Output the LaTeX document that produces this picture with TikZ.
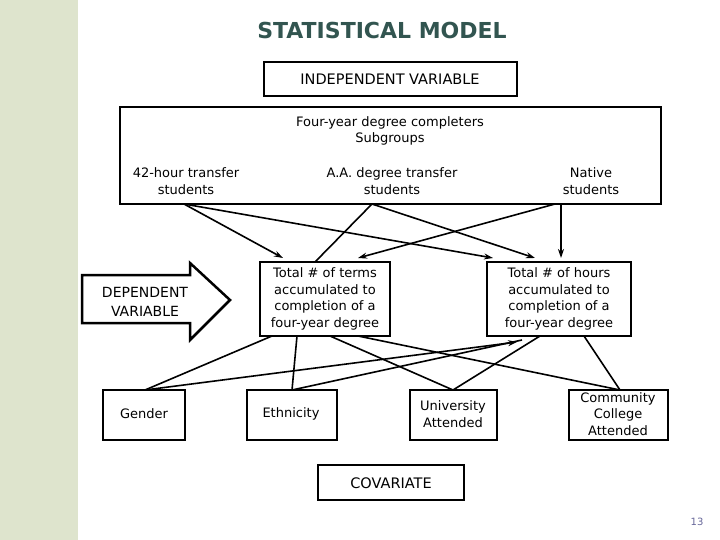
\documentclass[tikz,border=0pt]{standalone}
\usepackage{fontspec}
\setmainfont{DejaVu Sans}
\usetikzlibrary{arrows.meta,patterns}
\definecolor{titlec}{RGB}{50,85,80}
\definecolor{strip}{RGB}{222,228,205}
\begin{document}
\begin{tikzpicture}[x=1pt,y=-1pt,
  box/.style={draw,line width=2.5pt},
  txt/.style={font=\fontsize{13}{16.5}\selectfont,align=center},
  ar/.style={line width=1.6pt,-{Stealth[length=9pt,width=6pt]}},
  ln/.style={line width=1.6pt}]
\useasboundingbox (0,0) rectangle (720,540);
\fill[strip] (0,0) rectangle (78,540);
\node[font=\bfseries\fontsize{22}{26}\selectfont,text=titlec] (title) at (382,30) {STATISTICAL MODEL};
\draw[box] (264,62) rectangle (517,96);
\node[txt,font=\fontsize{14.5}{17}\selectfont] (iv) at (390,79) {INDEPENDENT VARIABLE};
\draw[box] (120,107) rectangle (661,204);
\node[txt] (sub) at (390,131) {Four-year degree completers\\Subgroups};
\node[txt] (h42) at (186,181) {42-hour transfer\\students};
\node[txt] (aa) at (392,181) {A.A. degree transfer\\students};
\node[txt] (nat) at (591,181) {Native\\students};
\coordinate (h42b) at (184,204); \coordinate (aab) at (372,204);
\coordinate (natb) at (555,204); \coordinate (natc) at (561,204);
\draw[box] (260,262) rectangle (390,336);
\node[txt] (terms) at (325,299) {Total \# of terms\\accumulated to\\completion of a\\four-year degree};
\draw[box] (487,262) rectangle (631,336);
\node[txt] (hours) at (559,299) {Total \# of hours\\accumulated to\\completion of a\\four-year degree};
\draw[line width=2.5pt] (82,275) -- (190,275) -- (190,263) -- (230,300) -- (190,340) -- (190,323) -- (82,323) -- cycle;
\node[txt,font=\fontsize{14}{19}\selectfont] (dv) at (145,302) {DEPENDENT\\VARIABLE};
\draw[box] (103,390) rectangle (185,440);
\node[txt] (gender) at (144,414) {Gender};
\draw[box] (247,390) rectangle (337,440);
\node[txt] (eth) at (291,414) {Ethnicity};
\draw[box] (410,390) rectangle (497,440);
\node[txt] (uni) at (453,414) {University\\Attended};
\draw[box] (569,390) rectangle (668,440);
\node[txt] (cc) at (618,414) {Community\\College\\Attended};
\draw[box] (318,465) rectangle (464,500);
\node[txt,font=\fontsize{14.5}{17}\selectfont] (cov) at (391,483) {COVARIATE};
\node[font=\fontsize{10}{12}\selectfont,text=gray!80!blue] (pg) at (697,522) {13};
% top connectors
\coordinate (t1) at (283,258); \coordinate (t2) at (493,258);
\coordinate (t3) at (315,262); \coordinate (t4) at (535,258);
\coordinate (t5) at (358,258); \coordinate (t6) at (561,258);
\draw[ar] (h42b) -- (t1);
\draw[ar] (h42b) -- (t2);
\draw[ln] (aab) -- (t3);
\draw[ar] (aab) -- (t4);
\draw[ar] (natb) -- (t5);
\draw[ar] (natc) -- (t6);
% bottom connectors
\coordinate (g) at (145,390); \coordinate (e) at (292,390);
\coordinate (u) at (453,390); \coordinate (c) at (620,390);
\coordinate (tb1) at (272,336); \coordinate (tb2) at (297,336);
\coordinate (tb3) at (330,336); \coordinate (tb4) at (358,336);
\coordinate (hb1) at (540,336); \coordinate (hb2) at (584,336);
\coordinate (ha) at (517,342); \coordinate (hc) at (522,340);
\draw[ln] (tb1) -- (g);
\draw[ln] (tb2) -- (e);
\draw[ln] (tb3) -- (u);
\draw[ln] (tb4) -- (c);
\draw[ln] (hb1) -- (u);
\draw[ln] (hb2) -- (c);
\draw[ar] (g) -- (ha);
\draw[ln] (e) -- (hc);
\end{tikzpicture}
\end{document}
